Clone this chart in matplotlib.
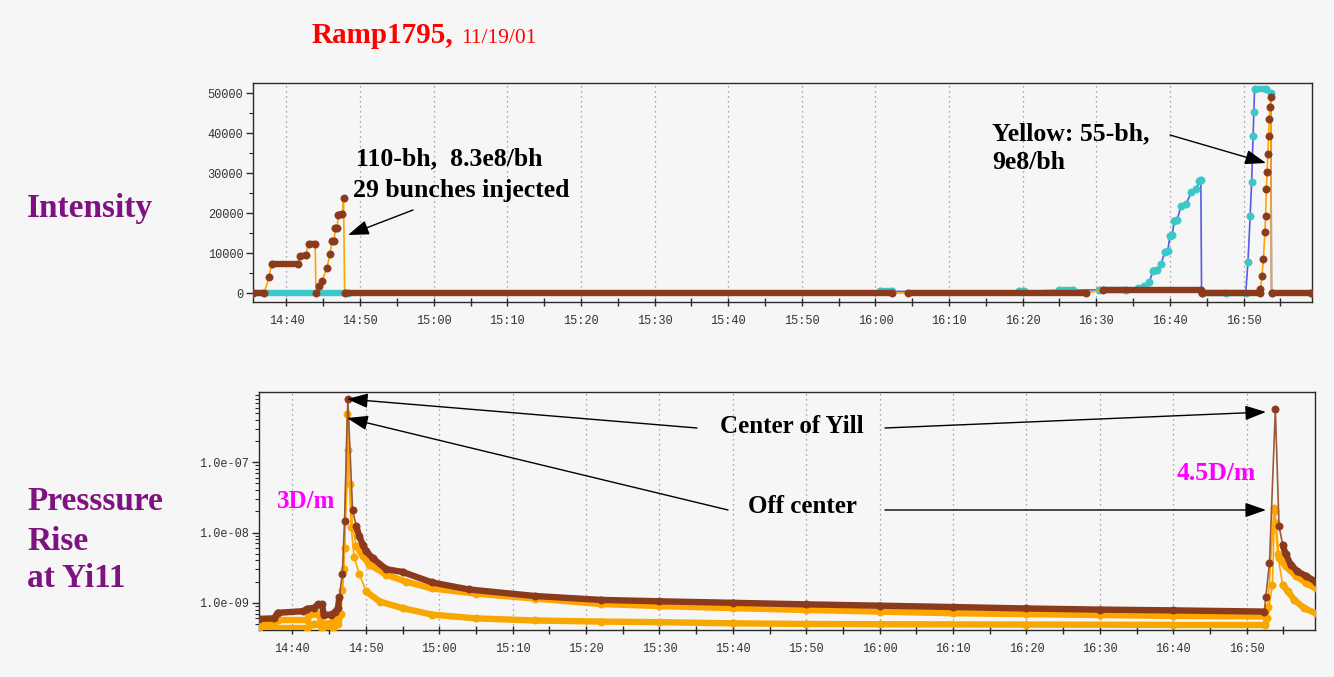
import numpy as np
import matplotlib
matplotlib.use("Agg")
import matplotlib.pyplot as plt
from matplotlib.collections import LineCollection
from matplotlib.ticker import MultipleLocator, FixedLocator, FuncFormatter, LogLocator, NullFormatter

# ---------------- data (time = minutes after 14:40) ----------------
# Top panel: beam intensity
blue_t = [-4.5, 8.3, 80.6, 82.2, 99.5, 100.2, 105.0, 106.8, 110.4, 114.0, 115.6, 116.5, 117.2,
          117.7, 118.3, 118.8, 119.3, 119.7, 120.0, 120.3, 120.6, 121.0, 121.5, 122.2, 122.9,
          123.6, 124.0, 124.2, 124.3, 127.6, 130.3, 130.6, 130.9, 131.1, 131.3, 131.4, 131.5,
          133.1, 133.7, 133.8, 139.2]
blue_v = [0, 0, 400, 400, 400, 400, 700, 700, 800, 800, 1200, 1800, 2700,
          5600, 5800, 7300, 10200, 10400, 14300, 14500, 18100, 18300, 21800, 22200, 25200,
          26000, 28100, 28300, 0, 0, 0, 7700, 19300, 27700, 39300, 45200, 51000,
          51000, 50000, 0, 0]
blue_gaps = [(8.3, 80.6), (82.2, 99.5), (100.2, 105.0), (106.8, 110.4), (133.8, 139.2)]

yellow_t = [-4.5, -3.0, -2.4, -2.0, 1.5, 1.9, 2.6, 3.0, 3.9, 4.0, 4.4, 4.8, 5.5, 5.9, 6.2, 6.5,
            6.6, 6.9, 7.0, 7.6, 7.75, 7.9, 82.2, 84.4, 108.6, 110.9, 124.2, 124.4, 132.2, 132.3,
            132.5, 132.7, 132.9, 133.0, 133.1, 133.2, 133.3, 133.4, 133.5, 133.6, 133.7, 133.8, 139.2]
yellow_v = [0, 0, 4000, 7300, 7300, 9200, 9400, 12300, 12300, 0, 1700, 2900, 6300, 9800, 13100, 13100,
            16200, 16200, 19500, 19800, 23700, 0, 0, 0, 0, 800, 800, 0, 0, 1000,
            4300, 8500, 15200, 19300, 26000, 30200, 34700, 39300, 43500, 46400, 48900, 0, 0]
yellow_gaps = [(82.2, 84.4)]

# Bottom panel: pressure at Yi11 (three gauges)
center_t = [-4.6, -2.5, -2.0, 1.5, 2.0, 3.0, 3.5, 4.0, 4.3, 5.3, 5.8, 6.2, 6.4, 6.8, 7.1, 7.55,
            8.2, 8.7, 9.1, 9.6, 10.05, 10.95, 12.8, 15.0, 19.0, 24.0, 33.0, 42.0, 50.0, 60.0,
            70.0, 80.0, 90.0, 100.0, 110.0, 120.0, 132.4, 132.6, 133.1, 133.9, 134.4, 134.9,
            135.3, 136.0, 136.9, 138.1, 139.4]
center_v = [5.9e-10, 6.0e-10, 7.2e-10, 7.6e-10, 8.2e-10, 8.5e-10, 9.5e-10, 9.6e-10, 6.7e-10,
            6.8e-10, 7.4e-10, 8.3e-10, 1.2e-9, 2.6e-9, 1.45e-8, 7.9e-7,
            2.06e-8, 1.23e-8, 8.9e-9, 6.7e-9, 5.4e-9, 4.3e-9, 3.0e-9, 2.75e-9, 1.95e-9, 1.55e-9,
            1.25e-9, 1.1e-9, 1.05e-9, 1.0e-9, 9.5e-10, 9.1e-10, 8.7e-10, 8.3e-10, 8.0e-10,
            7.8e-10, 7.5e-10, 1.2e-9, 3.7e-9, 5.7e-7, 1.23e-8, 6.7e-9, 4.9e-9, 3.5e-9, 2.8e-9,
            2.4e-9, 2.0e-9]

off1_t = [-4.6, -2.5, -2.0, 2.0, 2.3, 3.6, 4.0, 5.5, 6.0, 6.4, 6.8, 7.1, 7.45, 7.8, 8.2, 8.7,
          9.6, 10.5, 12.8, 15.5, 19.0, 25.0, 33.0, 42.0, 50.0, 60.0, 70.0, 80.0, 90.0, 100.0,
          110.0, 120.0, 132.5, 132.9, 133.7, 134.0, 134.4, 135.3, 136.7, 138.1, 139.4]
off1_v = [5.1e-10, 5.1e-10, 5.7e-10, 5.7e-10, 6.7e-10, 6.9e-10, 5.0e-10, 5.2e-10, 5.8e-10,
          7.0e-10, 1.5e-9, 6.0e-9, 4.8e-7, 4.9e-8, 1.17e-8, 6.5e-9, 4.6e-9, 3.5e-9, 2.5e-9,
          2.0e-9, 1.6e-9, 1.35e-9, 1.15e-9, 9.6e-10, 9.0e-10, 8.4e-10, 7.9e-10, 7.5e-10,
          7.1e-10, 6.9e-10, 6.7e-10, 6.5e-10, 6.4e-10, 8.8e-10, 2.2e-8, 1.37e-8, 4.3e-9,
          3.3e-9, 2.4e-9, 1.9e-9, 1.6e-9]

off2_t = [-4.6, 2.0, 3.0, 3.6, 4.0, 5.5, 6.2, 6.6, 7.0, 7.6, 8.0, 8.4, 9.1, 10.05, 11.9, 15.0,
          19.0, 25.0, 33.0, 42.0, 50.0, 60.0, 70.0, 80.0, 100.0, 120.0, 132.5, 132.8, 133.5,
          133.8, 134.2, 134.9, 135.6, 136.5, 137.8, 139.4]
off2_v = [4.4e-10, 4.4e-10, 5.0e-10, 5.0e-10, 4.3e-10, 4.4e-10, 5.0e-10, 7.0e-10, 3.0e-9,
          1.5e-7, 1.2e-8, 4.5e-9, 2.6e-9, 1.45e-9, 1.04e-9, 8.4e-10, 6.8e-10, 6.0e-10, 5.6e-10,
          5.4e-10, 5.3e-10, 5.1e-10, 5.0e-10, 4.95e-10, 4.9e-10, 4.85e-10, 4.85e-10, 6.0e-10,
          1.8e-9, 2.0e-8, 5.0e-9, 1.8e-9, 1.45e-9, 1.1e-9, 8.4e-10, 7.1e-10]

x_ticks = [0, 10, 20, 30, 40, 50, 60, 70, 80, 90, 100, 110, 120, 130]
top_yticks = [0, 10000, 20000, 30000, 40000, 50000]
bot_yticks = [1e-9, 1e-8, 1e-7]

# ---------------- styling ----------------
W, H = 1334, 677
BG = "#f6f6f6"
BROWN = "#8b3a1c"
ORANGE = "#ffa500"
ORANGE2 = "#f7a800"
CYAN = "#3cc8c8"
BLUE = "#5a5ae6"
TICKFONT = dict(family="Liberation Mono", size=8.6, color="#333333")
SERIF = "Liberation Serif"

fig = plt.figure(figsize=(W / 100, H / 100), dpi=100, facecolor=BG)


def rect(l, t, r, b):
    return [l / W, 1 - b / H, (r - l) / W, (b - t) / H]


def px(x, y):
    return (x, H - y)


ax1 = fig.add_axes(rect(253, 83, 1312, 302))
ax2 = fig.add_axes(rect(259, 392, 1315, 630))


def in_gap(t0, t1, gaps):
    return any(t0 >= g0 - 1e-9 and t1 <= g1 + 1e-9 for g0, g1 in gaps)


def draw(ax, t, v, mcolor, lcolor, same, gaps=(), z=3, band=4.6, ms=5.2):
    ax.plot(t, v, color=lcolor, lw=1.2, zorder=z, solid_joinstyle="miter")
    segs = []
    for i in range(len(t) - 1):
        if same(v[i], v[i + 1]) and not in_gap(t[i], t[i + 1], gaps):
            segs.append([(t[i], v[i]), (t[i + 1], v[i + 1])])
    lc = LineCollection(segs, colors=mcolor, linewidths=band, capstyle="round", zorder=z + 0.1)
    ax.add_collection(lc)
    ax.plot(t, v, ls="none", marker="o", ms=ms, mfc=mcolor, mec=mcolor, mew=0.5, zorder=z + 0.2)


lin_same = lambda a, b: abs(a - b) <= 300
log_same = lambda a, b: abs(np.log10(a / b)) < 0.2

draw(ax1, blue_t, blue_v, CYAN, BLUE, lin_same, blue_gaps, z=3)
draw(ax1, yellow_t, yellow_v, BROWN, ORANGE, lin_same, yellow_gaps, z=4)

draw(ax2, off2_t, off2_v, ORANGE2, ORANGE, log_same, z=3)
draw(ax2, off1_t, off1_v, ORANGE, ORANGE, log_same, z=4)
draw(ax2, center_t, center_v, BROWN, "#9a5a3a", log_same, z=5)


def clock(x, pos=None):
    m = 40 + int(round(x))
    return f"{14 + m // 60}:{m % 60:02d}"


for ax in (ax1, ax2):
    ax.set_facecolor(BG)
    ax.set_xlim(-4.55, 139.3)
    ax.xaxis.set_major_locator(FixedLocator(x_ticks))
    ax.xaxis.set_minor_locator(MultipleLocator(5))
    ax.xaxis.set_major_formatter(FuncFormatter(clock))
    ax.grid(axis="x", which="major", color="#8a8a8a", lw=0.9, ls=(0, (1, 3)))
    ax.set_axisbelow(True)
    for s in ax.spines.values():
        s.set_color("#2a2a2a")
        s.set_linewidth(1.0)
    ax.tick_params(axis="x", which="both", direction="inout", length=6, width=1, color="#2a2a2a", pad=6)
    ax.tick_params(axis="y", which="major", direction="out", length=5, width=1, color="#2a2a2a", pad=2)
    ax.tick_params(axis="y", which="minor", direction="out", length=3, width=0.8, color="#2a2a2a")
    for lab in ax.get_xticklabels() + ax.get_yticklabels():
        lab.set_fontfamily(TICKFONT["family"])
        lab.set_fontsize(TICKFONT["size"])
        lab.set_color(TICKFONT["color"])

ax1.set_ylim(-2250, 52500)
ax1.yaxis.set_major_locator(FixedLocator(top_yticks))
ax1.yaxis.set_minor_locator(MultipleLocator(5000))
ax1.yaxis.set_major_formatter(FuncFormatter(lambda v, p: f"{int(v)}"))

ax2.set_yscale("log")
ax2.set_ylim(4.1e-10, 1e-6)
ax2.yaxis.set_major_locator(FixedLocator(bot_yticks))
ax2.yaxis.set_minor_locator(LogLocator(base=10, subs=np.arange(2, 10)))
ax2.yaxis.set_minor_formatter(NullFormatter())
ax2.yaxis.set_major_formatter(FuncFormatter(lambda v, p: f"{v:.1e}"))

for ax in (ax1, ax2):
    for lab in ax.get_xticklabels() + ax.get_yticklabels():
        lab.set_fontfamily(TICKFONT["family"])
        lab.set_fontsize(TICKFONT["size"])
        lab.set_color(TICKFONT["color"])

# ---------------- texts ----------------
def ftext(x, y, s, **kw):
    fig.text(x / W, 1 - y / H, s, va="baseline", ha="left", **kw)


ftext(312, 43, "Ramp1795,", family=SERIF, weight="bold", size=21, color="#ff0000")
ftext(461, 43, "11/19/01", family=SERIF, size=15.5, color="#ff0000")

PURPLE = "#7e1280"
ftext(27, 217, "Intensity", family=SERIF, weight="bold", size=24, color=PURPLE)
ftext(27, 510, "Presssure", family=SERIF, weight="bold", size=24, color=PURPLE)
ftext(27, 550, "Rise", family=SERIF, weight="bold", size=24, color=PURPLE)
ftext(27, 587, "at Yi11", family=SERIF, weight="bold", size=24, color=PURPLE)

AN = dict(family=SERIF, weight="bold", size=18.5, color="black")
ftext(356, 165, "110-bh,  8.3e8/bh", **AN)
ftext(353, 197, "29 bunches injected", **AN)
ftext(992, 140, "Yellow: 55-bh,", **AN)
ftext(992, 169, "9e8/bh", **AN)
ftext(720, 433, "Center of Yill", **dict(AN, size=18))
ftext(748, 513, "Off center", **dict(AN, size=18))
ftext(277, 508, "3D/m", family=SERIF, weight="bold", size=18, color="#ff00ff")
ftext(1177, 480, "4.5D/m", family=SERIF, weight="bold", size=18.5, color="#ff00ff")

# ---------------- arrows ----------------
ARW = dict(arrowstyle="-|>,head_length=0.8,head_width=0.28", color="black", lw=1.0,
           shrinkA=0, shrinkB=0, mutation_scale=16)


def arrow(ax, tail, head):
    ax.annotate("", xy=px(*head), xycoords="figure pixels", xytext=px(*tail),
                textcoords="figure pixels", arrowprops=ARW, annotation_clip=False, zorder=10)


arrow(ax1, (413, 210), (348, 235))
arrow(ax1, (1170, 135), (1266, 163))
arrow(ax2, (697, 428), (347, 399))
arrow(ax2, (885, 428), (1266, 412))
arrow(ax2, (728, 510), (347, 418))
arrow(ax2, (885, 510), (1266, 510))

fig.savefig("out.png", dpi=100, facecolor=BG)
